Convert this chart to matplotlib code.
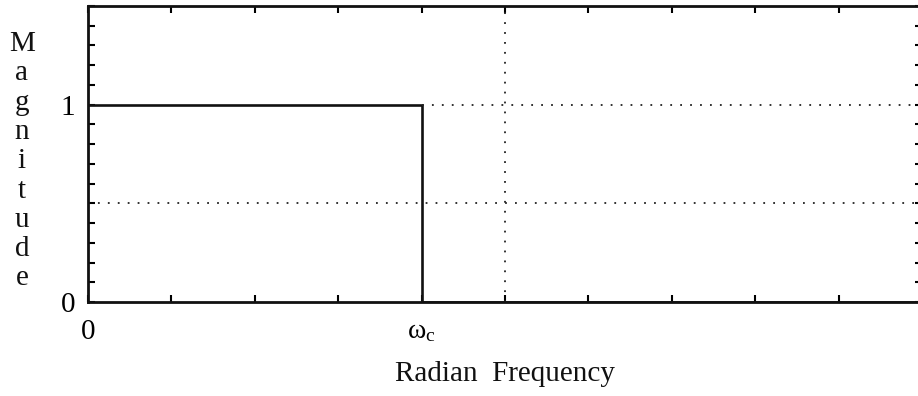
import numpy as np
import matplotlib.pyplot as plt

plt.rcParams['font.family'] = ['Liberation Serif', 'DejaVu Serif']
plt.rcParams['mathtext.fontset'] = 'custom'
plt.rcParams['mathtext.rm'] = 'Liberation Serif'
plt.rcParams['mathtext.it'] = 'Liberation Serif'

# ideal lowpass response: passband gain 1 up to the cutoff, 0 beyond it
freq = [0.0, 0.4, 0.4, 1.0]
mag = [1.0, 1.0, 0.0, 0.0]
cutoff = 0.4

xticks = np.round(np.arange(0, 1.01, 0.1), 2)
yticks = np.round(np.arange(0, 1.51, 0.1), 2)
xlabels = {0.0: '0', 0.4: r'$\omega_{\rm c}$'}
ylabels = {0.0: '0', 1.0: '1'}

fig = plt.figure(figsize=(9.18, 3.96), dpi=100)
ax = fig.add_axes([88/918, 94/396, 834/918, 296/396])

ax.plot(freq, mag, color='#111111', lw=1.9, solid_joinstyle='miter')

# dotted grid lines
dot = (0, (1, 4.5))
ax.axhline(0.5, color='#222222', lw=1.3, ls=dot)
ax.plot([cutoff, 1.0], [1.0, 1.0], color='#222222', lw=1.3, ls=dot)
ax.axvline(0.5, color='#222222', lw=1.3, ls=dot)

ax.set_xlim(0, 1.0)
ax.set_ylim(0, 1.5)
ax.set_xticks(xticks)
ax.set_xticklabels([xlabels.get(t, '') for t in xticks])
ax.set_yticks(yticks)
ax.set_yticklabels([ylabels.get(t, '') for t in yticks])
ax.tick_params(axis='x', direction='in', length=5, width=1.5, top=True,
               labelsize=21, pad=12)
ax.tick_params(axis='y', direction='in', length=5, width=1.5, right=True,
               labelsize=21, pad=9)
for s in ax.spines.values():
    s.set_linewidth(2.0)
    s.set_color('#111111')

for lbl in ax.get_xticklabels():
    if lbl.get_text() == r'$\omega_{\rm c}$':
        lbl.set_fontsize(20)

fig.text(505/918, 1 - 374/396, 'Radian  Frequency', ha='center', va='center',
         fontsize=21, color='#111111')

# stacked vertical y-axis title
for i, ch in enumerate('Magnitude'):
    fig.text(22/918, 1 - (44 + i * 29.3)/396, ch, ha='center', va='center',
             fontsize=21, color='#111111')

fig.savefig('out.png', dpi=100, facecolor='white')
